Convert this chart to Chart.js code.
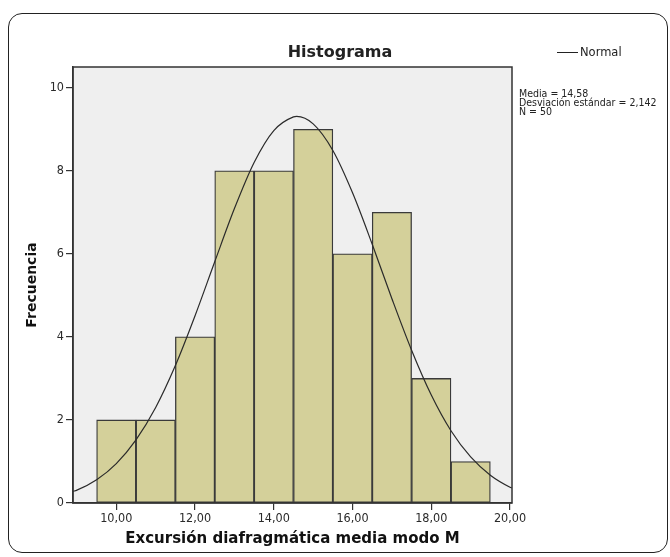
<!DOCTYPE html>
<html>
<head>
<meta charset="utf-8">
<script src="https://cdn.jsdelivr.net/npm/chart.js@4"></script>
<style>
  html, body { margin: 0; padding: 0; background: #fff; }
  #wrap { position: relative; width: 670px; height: 557px; overflow: hidden; font-family: 'DejaVu Sans', sans-serif; color: #222; }
  #frame { position: absolute; left: 8px; top: 13px; width: 658px; height: 538px; border: 1.5px solid #222; border-radius: 14px; }
  #chart { position: absolute; left: 0; top: 0; }
  #title { position: absolute; left: 240px; width: 200px; top: 42px; text-align: center; font-weight: bold; font-size: 16px; line-height: 20px; }
  #legend { position: absolute; left: 557px; top: 45px; font-size: 11.5px; line-height: 14px; }
  #legend span.swatch { display: inline-block; width: 21px; height: 0; border-top: 1.3px solid #222; vertical-align: middle; margin-right: 2px; }
  #stats { position: absolute; left: 519px; top: 89px; font-family: 'DejaVu Sans Condensed', 'DejaVu Sans', sans-serif; font-size: 10.5px; line-height: 9px; white-space: nowrap; color: #222; }
</style>
</head>
<body>
<div id="wrap">
  <div id="frame"></div>
  <canvas id="chart" width="670" height="557"></canvas>
  <div id="title">Histograma</div>
  <div id="legend"><span class="swatch"></span>Normal</div>
  <div id="stats">Media = 14,58<br>Desviación estándar = 2,142<br>N = 50</div>
</div>
<script>
// histogram bins (centre of each 1-unit bin) and counts
const binCenters = [10, 11, 12, 13, 14, 15, 16, 17, 18, 19];
const frequencies = [2, 2, 4, 8, 8, 9, 6, 7, 3, 1];

// normal curve
const curveX = [8.9, 9, 9.5, 10, 10.5, 11, 11.5, 12, 12.5, 13, 13.5, 14, 14.5, 14.58, 15, 15.5, 16, 16.5, 17, 17.5, 18, 18.5, 19, 19.5, 20, 20.05];
const curveY = [0.28, 0.31, 0.56, 0.95, 1.52, 2.30, 3.31, 4.51, 5.81, 7.09, 8.20, 8.97, 9.30, 9.31, 9.13, 8.49, 7.47, 6.23, 4.92, 3.68, 2.60, 1.74, 1.11, 0.67, 0.38, 0.36];

const xTickValues = [10, 12, 14, 16, 18, 20];
const xTickLabels = ['10,00', '12,00', '14,00', '16,00', '18,00', '20,00'];
const yTickValues = [0, 2, 4, 6, 8, 10];
const yTickLabels = ['0', '2', '4', '6', '8', '10'];

Chart.defaults.font.family = "'DejaVu Sans', sans-serif";
Chart.defaults.color = '#333';

const tickFont = { family: "'DejaVu Sans Condensed', 'DejaVu Sans', sans-serif", size: 12.5 };

const plotBox = {
    id: 'plotBox',
    beforeDraw(chart) {
        const { ctx, chartArea: a } = chart;
        ctx.save();
        ctx.fillStyle = '#efefef';
        ctx.fillRect(a.left, a.top, a.right - a.left, a.bottom - a.top);
        ctx.restore();
    },
    afterDraw(chart) {
        const { ctx, chartArea: a } = chart;
        ctx.save();
        ctx.strokeStyle = '#333';
        ctx.lineWidth = 1.5;
        ctx.strokeRect(a.left, a.top, a.right - a.left, a.bottom - a.top);
        ctx.restore();
    }
};

new Chart(document.getElementById('chart'), {
    type: 'bar',
    data: {
        datasets: [
            {
                type: 'line',
                label: 'Normal',
                data: curveX.map((x, i) => ({ x: x, y: curveY[i] })),
                borderColor: '#2a2a2a',
                borderWidth: 1.2,
                pointRadius: 0,
                cubicInterpolationMode: 'monotone',
                fill: false,
                order: 0
            },
            {
                label: 'Frecuencia',
                data: binCenters.map((x, i) => ({ x: x, y: frequencies[i] })),
                backgroundColor: 'rgb(212, 208, 154)',
                borderColor: '#3a3a3a',
                borderWidth: 1.3,
                borderSkipped: false,
                barPercentage: 1,
                categoryPercentage: 1,
                order: 1
            }
        ]
    },
    options: {
        responsive: false,
        animation: false,
        layout: { padding: { top: 67, right: 158, left: 0, bottom: 0 } },
        plugins: {
            legend: { display: false },
            title: { display: false },
            tooltip: { enabled: false }
        },
        scales: {
            x: {
                type: 'linear',
                min: 8.9,
                max: 20.05,
                offset: false,
                afterBuildTicks: (s) => { s.ticks = xTickValues.map(v => ({ value: v })); },
                afterFit: (s) => { s.height = 54; },
                ticks: {
                    font: tickFont,
                    color: '#2a2a2a',
                    padding: 1,
                    maxRotation: 0,
                    callback: (v) => xTickLabels[xTickValues.indexOf(v)]
                },
                grid: { offset: false, drawOnChartArea: false, drawTicks: true, tickLength: 7, color: '#333', lineWidth: 1.2 },
                border: { display: true, color: '#333', width: 1.5 },
                title: {
                    display: true,
                    text: 'Excursión diafragmática media modo M',
                    font: { size: 15, weight: 'bold' },
                    color: '#111',
                    padding: { top: 4, bottom: 9 }
                }
            },
            y: {
                min: 0,
                max: 10.5,
                afterBuildTicks: (s) => { s.ticks = yTickValues.map(v => ({ value: v })); },
                afterFit: (s) => { s.width = 73; },
                ticks: {
                    font: tickFont,
                    color: '#2a2a2a',
                    padding: 2,
                    callback: (v) => yTickLabels[yTickValues.indexOf(v)]
                },
                grid: { drawOnChartArea: false, drawTicks: true, tickLength: 7, color: '#333', lineWidth: 1.2 },
                border: { display: true, color: '#333', width: 1.5 },
                title: {
                    display: true,
                    text: 'Frecuencia',
                    font: { size: 14, weight: 'bold' },
                    color: '#111',
                    padding: { top: 24, bottom: 0 }
                }
            }
        }
    },
    plugins: [plotBox]
});
</script>
</body>
</html>
